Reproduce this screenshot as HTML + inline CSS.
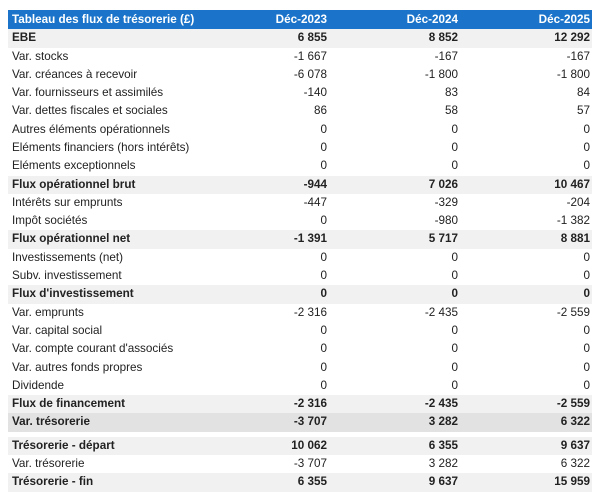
<!DOCTYPE html>
<html><head><meta charset="utf-8"><style>
body{margin:0;width:600px;height:504px;background:#fff;font-family:"Liberation Sans",sans-serif;font-size:11.7px;color:#222;position:relative;overflow:hidden}
.r{position:absolute;left:8px;width:584px;height:18.3px;line-height:18.3px}
.r span{position:absolute;top:0}
.l{left:4px}
.a{right:265px}.b{right:134px}.c{right:2px}
.h{background:#1b74c9;color:#fff;font-weight:bold;height:19px;line-height:19px;top:10px}
.bd{font-weight:bold;background:#f1f1f1}
.dk{font-weight:bold;background:#e2e2e2}
</style></head><body>
<div class="r h"><span class="l">Tableau des flux de trésorerie (£)</span><span class="a">Déc-2023</span><span class="b">Déc-2024</span><span class="c">Déc-2025</span></div>
<div id="t"></div>
<script>
var rows=[
["EBE","6 855","8 852","12 292","bd"],
["Var. stocks","-1 667","-167","-167"],
["Var. créances à recevoir","-6 078","-1 800","-1 800"],
["Var. fournisseurs et assimilés","-140","83","84"],
["Var. dettes fiscales et sociales","86","58","57"],
["Autres éléments opérationnels","0","0","0"],
["Eléments financiers (hors intérêts)","0","0","0"],
["Eléments exceptionnels","0","0","0"],
["Flux opérationnel brut","-944","7 026","10 467","bd"],
["Intérêts sur emprunts","-447","-329","-204"],
["Impôt sociétés","0","-980","-1 382"],
["Flux opérationnel net","-1 391","5 717","8 881","bd"],
["Investissements (net)","0","0","0"],
["Subv. investissement","0","0","0"],
["Flux d'investissement","0","0","0","bd"],
["Var. emprunts","-2 316","-2 435","-2 559"],
["Var. capital social","0","0","0"],
["Var. compte courant d'associés","0","0","0"],
["Var. autres fonds propres","0","0","0"],
["Dividende","0","0","0"],
["Flux de financement","-2 316","-2 435","-2 559","bd"],
["Var. trésorerie","-3 707","3 282","6 322","dk"],
["Trésorerie - départ","10 062","6 355","9 637","bd"],
["Var. trésorerie","-3 707","3 282","6 322"],
["Trésorerie - fin","6 355","9 637","15 959","bd"]];
var h="";
rows.forEach(function(r,i){var top=29.3+i*18.29+(i>=22?5:0);
h+='<div class="r '+(r[4]||'')+'" style="top:'+top+'px"><span class="l">'+r[0]+'</span><span class="a">'+r[1]+'</span><span class="b">'+r[2]+'</span><span class="c">'+r[3]+'</span></div>';});
document.getElementById("t").innerHTML=h;
</script>
</body></html>
